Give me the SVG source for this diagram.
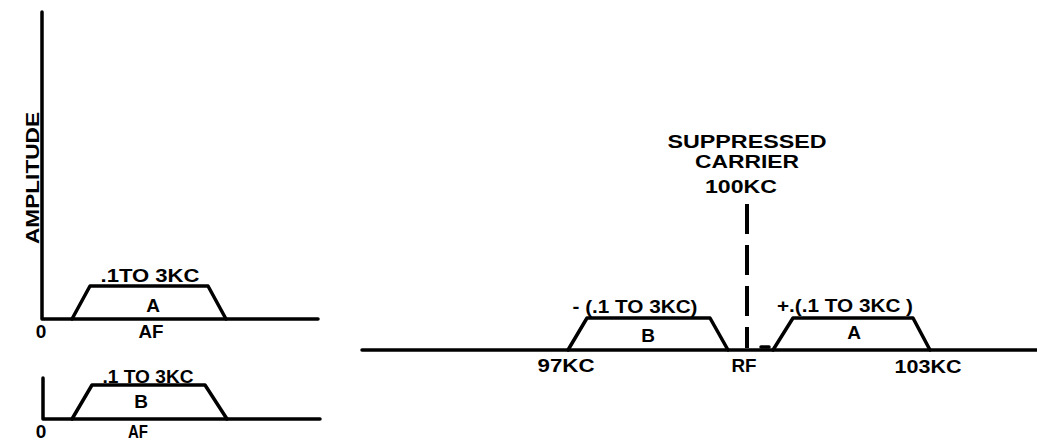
<svg xmlns="http://www.w3.org/2000/svg" width="1037" height="448" viewBox="0 0 1037 448">
<style>
.ln{fill:none;stroke:#000;stroke-width:3.5;stroke-linejoin:round;stroke-linecap:round}
.t{font-family:"Liberation Sans",Arial,sans-serif;font-weight:bold;font-size:19px;fill:#000;text-anchor:middle}
.carrier{fill:none;stroke:#000;stroke-width:4;stroke-dasharray:30 11}
</style>
<rect width="1037" height="448" fill="#fff"/>
<g id="graph-af-a">
  <path class="ln" d="M42,12 L42,319 L318,319"/>
  <path class="ln" d="M72,319 L90,286 L208,286 L226,319"/>
  <text class="t" transform="translate(39,178) rotate(-90)" textLength="132" lengthAdjust="spacingAndGlyphs">AMPLITUDE</text>
  <text class="t" x="150" y="282" textLength="99" lengthAdjust="spacingAndGlyphs">.1TO 3KC</text>
  <text class="t" x="153" y="312">A</text>
  <text class="t" x="41" y="338">0</text>
  <text class="t" x="151" y="338" textLength="25" lengthAdjust="spacingAndGlyphs">AF</text>
</g>
<g id="graph-af-b">
  <path class="ln" d="M43,378 L43,419 L320,419"/>
  <path class="ln" d="M72,419 L92,385 L205,385 L227,419"/>
  <text class="t" x="148" y="383" textLength="91" lengthAdjust="spacingAndGlyphs">.1 TO 3KC</text>
  <text class="t" x="141" y="408">B</text>
  <text class="t" x="41" y="438">0</text>
  <text class="t" x="138" y="438" textLength="20" lengthAdjust="spacingAndGlyphs">AF</text>
</g>
<g id="graph-rf">
  <path class="ln" d="M362,350 L1037,350"/>
  <text class="t" x="566" y="372" textLength="57" lengthAdjust="spacingAndGlyphs">97KC</text>
  <text class="t" x="744" y="372" textLength="25" lengthAdjust="spacingAndGlyphs">RF</text>
  <text class="t" x="928" y="373" textLength="67" lengthAdjust="spacingAndGlyphs">103KC</text>
  <path class="ln" d="M761,347 L769,347"/>
</g>
<g id="sideband-b">
  <path class="ln" d="M568,350 L587,318 L710,318 L728,350"/>
  <text class="t" x="635" y="313" textLength="125" lengthAdjust="spacingAndGlyphs">- (.1 TO 3KC)</text>
  <text class="t" x="648" y="342">B</text>
</g>
<g id="sideband-a">
  <path class="ln" d="M773,350 L793,318 L913,318 L930,350"/>
  <text class="t" x="845" y="312" textLength="136" lengthAdjust="spacingAndGlyphs">+.(.1 TO 3KC )</text>
  <text class="t" x="854" y="339">A</text>
</g>
<g id="carrier-label">
  <text class="t" x="747" y="148" textLength="159" lengthAdjust="spacingAndGlyphs">SUPPRESSED</text>
  <text class="t" x="747" y="168" textLength="104" lengthAdjust="spacingAndGlyphs">CARRIER</text>
  <text class="t" x="741" y="193" textLength="72" lengthAdjust="spacingAndGlyphs">100KC</text>
</g>
<g id="connectors">
  <path class="carrier" d="M747,204 L747,348"/>
</g>
</svg>
